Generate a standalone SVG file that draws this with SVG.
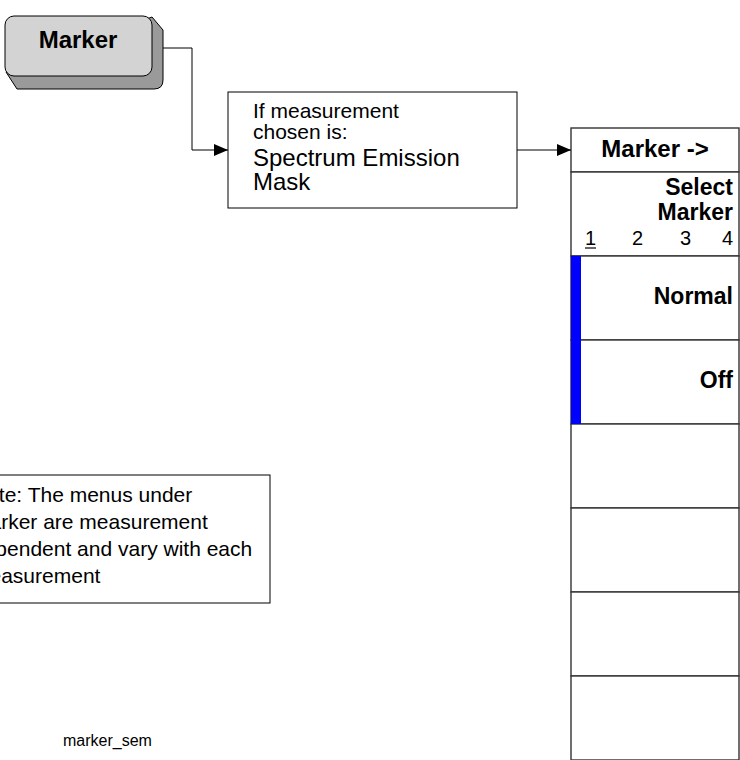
<svg xmlns="http://www.w3.org/2000/svg" width="740" height="760" viewBox="0 0 740 760">
<style>
text{font-family:"Liberation Sans",Arial,sans-serif;fill:#000}
.b{font-weight:bold}
.box{fill:#fff;stroke:#000;stroke-width:1}
.cell{fill:#fff;stroke:#333;stroke-width:1.4}
.conn{fill:none;stroke:#000;stroke-width:1}
</style>
<defs>
<marker id="arr" markerWidth="14" markerHeight="12" refX="14" refY="6" orient="auto" markerUnits="userSpaceOnUse">
<path d="M0,0 L14,6 L0,12 Z" fill="#000"/>
</marker>
</defs>
<rect width="740" height="760" fill="#fff"/>
<g id="marker-key">
<path d="M152,17 L163,30 L163,80 Q163,89 154,89 L17,89 L6,72 Z" fill="#9a9a9a" stroke="#000" stroke-width="1"/>
<rect x="5" y="16" width="147" height="60" rx="9" fill="#d3d3d3" stroke="#000" stroke-width="1"/>
<text class="b" x="78" y="48" font-size="24" text-anchor="middle">Marker</text>
</g>
<g id="condition">
<rect class="box" x="228" y="92" width="289" height="116"/>
<text x="253" y="118" font-size="21">If measurement</text>
<text x="253" y="139" font-size="21">chosen is:</text>
<text x="253" y="166" font-size="24">Spectrum Emission</text>
<text x="253" y="190" font-size="24">Mask</text>
</g>
<g id="menu">
<rect class="cell" x="571" y="128" width="168" height="44"/>
<rect class="cell" x="571" y="172" width="168" height="84"/>
<rect class="cell" x="571" y="256" width="168" height="84"/>
<rect class="cell" x="571" y="340" width="168" height="84"/>
<rect class="cell" x="571" y="424" width="168" height="84"/>
<rect class="cell" x="571" y="508" width="168" height="84"/>
<rect class="cell" x="571" y="592" width="168" height="84"/>
<rect class="cell" x="571" y="676" width="168" height="84"/>
<rect x="571" y="256" width="10" height="168" fill="#0000ff"/>
<text class="b" x="655" y="157" font-size="24" text-anchor="middle">Marker -&gt;</text>
<text class="b" x="733" y="195" font-size="23" text-anchor="end">Select</text>
<text class="b" x="733" y="220" font-size="23" text-anchor="end">Marker</text>
<text x="585" y="245" font-size="20">1</text>
<line x1="585" y1="248" x2="596" y2="248" stroke="#000" stroke-width="1.2"/>
<text x="632" y="245" font-size="20">2</text>
<text x="680" y="245" font-size="20">3</text>
<text x="722" y="245" font-size="20">4</text>
<text class="b" x="733" y="304" font-size="23" text-anchor="end">Normal</text>
<text class="b" x="733" y="388" font-size="23" text-anchor="end">Off</text>
</g>
<g id="note">
<rect class="box" x="-40" y="475" width="310" height="128"/>
<text x="-28" y="502" font-size="21">Note: The menus under</text>
<text x="-28" y="529" font-size="21">Marker are measurement</text>
<text x="-28" y="556" font-size="21">dependent and vary with each</text>
<text x="-28" y="583" font-size="21">measurement</text>
</g>
<g id="label">
<text x="63" y="746" font-size="16">marker_sem</text>
</g>
<g id="connectors">
<polyline class="conn" points="163,48 192,48 192,150 228,150" marker-end="url(#arr)"/>
<line class="conn" x1="517" y1="150" x2="571" y2="150" marker-end="url(#arr)"/>
</g>
</svg>
